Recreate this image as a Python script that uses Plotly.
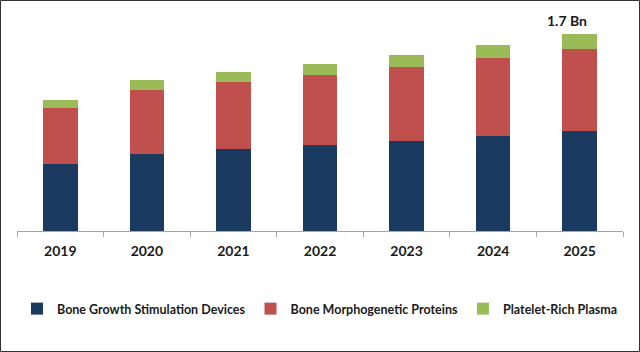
import plotly.graph_objects as go

years = ["2019", "2020", "2021", "2022", "2023", "2024", "2025"]
bone_growth = [0.578, 0.664, 0.708, 0.742, 0.777, 0.820, 0.863]
bmp = [0.483, 0.552, 0.578, 0.604, 0.639, 0.673, 0.708]
prp = [0.069, 0.086, 0.086, 0.095, 0.104, 0.112, 0.129]
series_names = ["Bone Growth Stimulation Devices", "Bone Morphogenetic Proteins", "Platelet-Rich Plasma"]
colors = ["#1B3A5F", "#C0504D", "#9BBB59"]
total_label = "1.7 Bn"

W, H = 640, 352
ml, mr, mt, mb = 17, 17, 10, 121
pw, ph = W - ml - mr, H - mt - mb

fig = go.Figure()
for name, vals, c in zip(series_names, [bone_growth, bmp, prp], colors):
    fig.add_trace(go.Bar(x=years, y=vals, name=name, marker=dict(color=c, line=dict(width=0))))

totals = [a + b + c for a, b, c in zip(bone_growth, bmp, prp)]
fig.add_annotation(x=len(years) - 1, y=totals[-1], text="<b>" + total_label + "</b>", showarrow=False,
                   yanchor="bottom", yshift=3, xshift=-13,
                   font=dict(size=14, color="#1a1a1a", family="Lato"))

fig.update_layout(
    width=W, height=H, margin=dict(l=ml, r=mr, t=mt, b=mb),
    barmode="stack", bargap=0.6,
    paper_bgcolor="white", plot_bgcolor="white",
    font=dict(family="Lato", color="#1a1a1a"),
    xaxis=dict(type="category", categoryorder="array", categoryarray=years,
               range=[-0.5, len(years) - 0.5], autorange=False,
               showline=True, linecolor="#a6a6a6", linewidth=1, ticks="outside",
               tickson="boundaries", ticklen=5, tickcolor="#a6a6a6", tickangle=0,
               ticklabelstandoff=7,
               tickfont=dict(size=14, family="Lato", color="#1a1a1a", weight="bold"),
               showgrid=False),
    yaxis=dict(range=[0, ph * 1.7 / 197], visible=False, showgrid=False),
    legend=dict(orientation="h", xref="container", yref="container", x=0.5, xanchor="center",
                y=1 - 309 / H, yanchor="middle",
                font=dict(size=12.5, family="Lato", color="#1a1a1a", weight="bold"),
                itemwidth=30, traceorder="normal"),
    showlegend=True,
)

fig.add_shape(type="rect", xref="paper", yref="paper",
              x0=-(ml - 0.5) / pw, x1=1 + (mr - 0.5) / pw,
              y0=-(mb - 0.5) / ph, y1=1 + (mt - 0.5) / ph,
              line=dict(color="#333333", width=1))

fig.write_html("out.html")
